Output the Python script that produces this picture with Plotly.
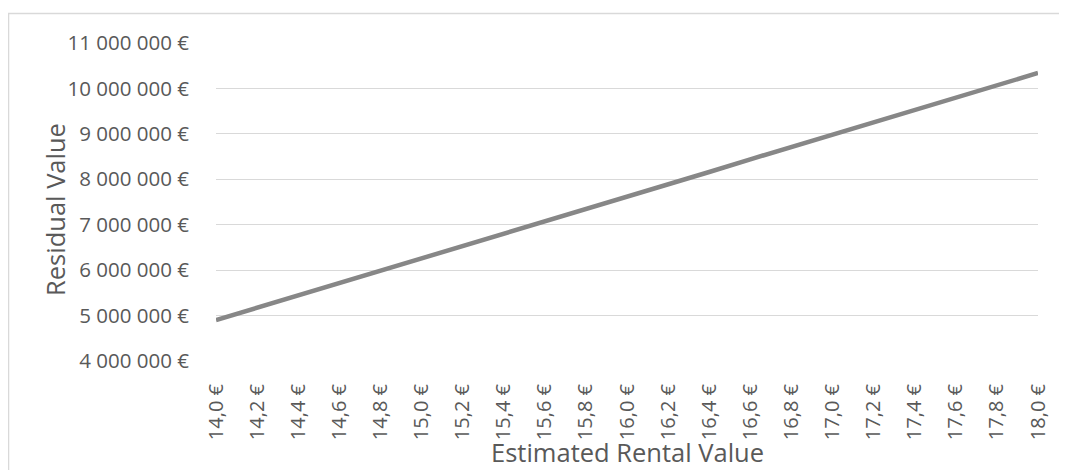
import plotly.graph_objects as go

# 임대료 단가 (x축 카테고리)
rent_labels = ["14,0 €", "14,2 €", "14,4 €", "14,6 €", "14,8 €", "15,0 €", "15,2 €",
               "15,4 €", "15,6 €", "15,8 €", "16,0 €", "16,2 €", "16,4 €", "16,6 €",
               "16,8 €", "17,0 €", "17,2 €", "17,4 €", "17,6 €", "17,8 €", "18,0 €"]

# 잔여가치
residual_values = [4900000, 5170000, 5440000, 5720000, 5990000, 6260000, 6530000,
                   6800000, 7080000, 7350000, 7620000, 7890000, 8160000, 8440000,
                   8710000, 8980000, 9250000, 9520000, 9800000, 10070000, 10340000]

y_ticks = [4000000, 5000000, 6000000, 7000000, 8000000, 9000000, 10000000, 11000000]
y_tick_text = [f"{v:,}".replace(",", " ") + " €" for v in y_ticks]

TEXT = "#595959"
GRID = "#D9D9D9"
FONT = "Open Sans"

fig = go.Figure()

fig.add_trace(go.Scatter(
    x=rent_labels, y=residual_values, mode="lines",
    line=dict(color="#878787", width=4.5),
    hoverinfo="x+y", showlegend=False,
))

# 페이지 body 여백(8px)만큼 보정한 크기
fig.update_layout(
    width=1059, height=462,
    margin=dict(l=208, r=29, t=35, b=109),
    plot_bgcolor="white", paper_bgcolor="white",
    font=dict(family=FONT, color=TEXT, size=20),
    xaxis=dict(
        type="category", range=[0, 20],
        showgrid=False, zeroline=False, showline=False,
        tickangle=-90, ticklabelstandoff=18,
        tickfont=dict(size=20, color=TEXT),
    ),
    yaxis=dict(
        range=[4000000, 11000000], tickvals=y_ticks, ticktext=y_tick_text,
        showgrid=True, gridcolor=GRID, gridwidth=1,
        zeroline=False, showline=False,
        ticklabelstandoff=26,
        tickfont=dict(size=20.5, color=TEXT),
    ),
    shapes=[dict(
        type="rect", xref="paper", yref="paper",
        x0=-0.2524, x1=1.2, y0=-0.6, y1=1.0928,
        line=dict(color=GRID, width=1.5), fillcolor="rgba(0,0,0,0)",
        layer="below",
    )],
    annotations=[
        dict(text="Estimated Rental Value", xref="paper", yref="paper",
             x=0.5, y=-0.2862, xanchor="center", yanchor="middle",
             showarrow=False, font=dict(size=25.5, color=TEXT)),
        dict(text="Residual Value", xref="paper", yref="paper",
             x=-0.1959, y=0.478, xanchor="center", yanchor="middle",
             textangle=-90, showarrow=False, font=dict(size=25.5, color=TEXT)),
    ],
)

fig.write_html("out.html")
